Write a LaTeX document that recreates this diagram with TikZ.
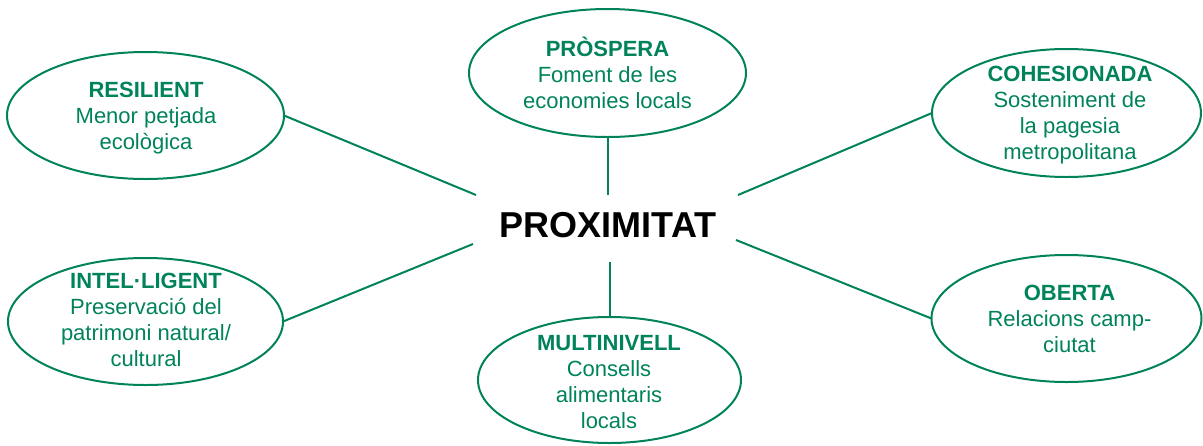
\documentclass[tikz,border=0pt]{standalone}
\usepackage{fontspec}
\setmainfont{Liberation Sans}
\usetikzlibrary{shapes.geometric}
\definecolor{pgreen}{RGB}{0,130,90}
\newcommand{\tops}{\rule{0pt}{20pt}}
\newcommand{\bots}{\rule[-4pt]{0pt}{4pt}}
\tikzset{
  bubble/.style={ellipse, draw=pgreen, line width=2pt, inner sep=0pt, outer sep=0pt},
  lbl/.style={text=pgreen, align=center, inner sep=0pt, font=\fontsize{22}{26}\selectfont},
  link/.style={draw=pgreen, line width=2pt},
  core/.style={font=\fontsize{36}{40}\selectfont\bfseries, text=black, inner sep=0pt}
}
\begin{document}
\begin{tikzpicture}[x=1pt, y=-1pt]
\useasboundingbox (0,0) rectangle (1203,445);
% ellipses
\node[bubble, minimum width=277pt, minimum height=127pt] (res) at (145.5,115.5) {};
\node[bubble, minimum width=277pt, minimum height=128pt] (pro) at (607.5,73) {};
\node[bubble, minimum width=269pt, minimum height=128pt] (coh) at (1066.5,113) {};
\node[bubble, minimum width=275pt, minimum height=127pt] (int) at (145.5,321.5) {};
\node[bubble, minimum width=263pt, minimum height=126pt] (mul) at (609.5,380) {};
\node[bubble, minimum width=270pt, minimum height=127pt] (obe) at (1066.5,318.5) {};
% texts
\node[lbl] (tres) at (146,115.5) {\tops\textbf{RESILIENT}\\Menor petjada\\ecològica\bots};
\node[lbl] (tpro) at (607.5,74) {\tops\textbf{PRÒSPERA}\\Foment de les\\economies locals\bots};
\node[lbl] (tcoh) at (1070,112.5) {\tops\textbf{COHESIONADA}\\Sosteniment de\\la pagesia\\metropolitana\bots};
\node[lbl] (tint) at (146,319.5) {\tops\textbf{INTEL·LIGENT}\\Preservació del\\patrimoni natural/\\cultural\bots};
\node[lbl] (tmul) at (609,381) {\tops\textbf{MULTINIVELL}\\Consells\\alimentaris\\locals\bots};
\node[lbl] (tobe) at (1069.5,318) {\tops\textbf{OBERTA}\\Relacions camp-\\ciutat\bots};
% centre
\node[core] (prox) at (608,225) {PROXIMITAT};
% connector ends
\coordinate (c1) at (476,195);
\coordinate (c2) at (607.5,195);
\coordinate (c3) at (738,195);
\coordinate (c4) at (473,244);
\coordinate (c5) at (609.5,262);
\coordinate (c6) at (736,240);
\draw[link] (res.east) -- (c1);
\draw[link] (pro.south) -- (c2);
\draw[link] (coh.west) -- (c3);
\draw[link] (int.east) -- (c4);
\draw[link] (mul.north) -- (c5);
\draw[link] (obe.west) -- (c6);
\end{tikzpicture}
\end{document}
